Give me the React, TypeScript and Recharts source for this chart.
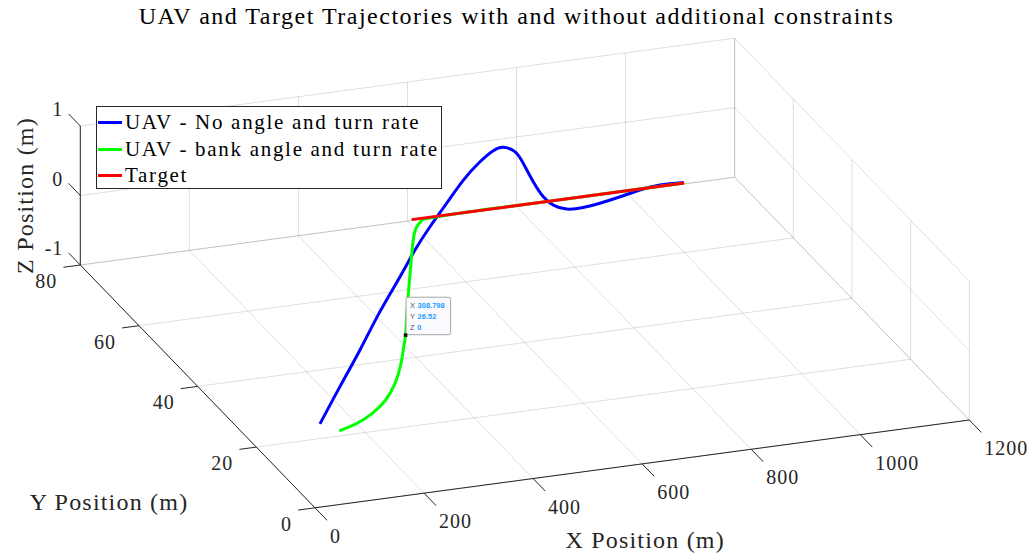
import React from 'react';
import { ComposedChart, Line, Scatter, XAxis, YAxis, ReferenceLine, Legend } from 'recharts';

const W = 1033;
const H = 559;

// axis limits and tick values
const X_LIM = [0, 1200];
const Y_LIM = [0, 80];
const Z_LIM = [-1, 1];
const X_TICKS = [0, 200, 400, 600, 800, 1000, 1200];
const Y_TICKS = [0, 20, 40, 60, 80];
const Z_TICKS = [-1, 0, 1];

// series names, in plotting order
const SERIES = ['UAV - No angle and turn rate', 'UAV - bank angle and turn rate', 'Target'];

// UAV path, no bank angle / turn rate limits
const FREE_X = [30.6, 121.6, 211.6, 304.2, 391.6, 457.8, 518.7, 582.6, 646.1, 701.9, 740.7, 762.3, 774.4, 769.7, 757.0, 749.7, 752.9, 768.4, 797.4, 831.4, 874.3, 917.2, 957.5, 1000];
const FREE_Y = [4.0, 14.1, 24.0, 34.4, 43.8, 51.0, 57.2, 63.4, 69.5, 74.2, 76.9, 77.5, 75.8, 72.1, 66.3, 61.5, 58.7, 57.0, 56.8, 57.4, 58.5, 59.7, 60.4, 60.2];

// UAV path with bank angle and turn rate limits
const BANK_X = [50.9, 91.2, 130.2, 172.6, 216.2, 257.3, 294.0, 308.798, 339.7, 384.8, 430.5, 470.7, 497.1, 514.6, 529.2, 600, 700, 800, 900, 1000];
const BANK_Y = [1.2, 2.7, 4.9, 8.2, 12.9, 18.5, 24.2, 26.52, 31.9, 39.6, 47.3, 54.0, 57.7, 59.3, 59.7, 60, 60, 60, 60, 60];

// target path
const TARGET_X = [500, 1000];
const TARGET_Y = [60, 60];

// all paths are flown at z = 0
const PATH_Z = 0;

// pinned data tip
const TIP = { x: 308.798, y: 26.52, z: 0 };

const SERIF = "'Liberation Serif', 'DejaVu Serif', serif";
const SANS = "'Liberation Sans', 'DejaVu Sans', sans-serif";
const INK = '#262626';

// orthographic view: screen point of the origin and screen step per data unit along x, y, z
const VIEW = {
  ox: 315,
  oy: 438.3,
  xu: [654.3 / 1200, -87.8 / 1200],
  yu: [-234.7 / 80, -242.8 / 80],
  zu: [0, -69.5],
};

type P3 = [number, number, number];

const project = (x: number, y: number, z: number) => ({
  sx: VIEW.ox + x * VIEW.xu[0] + y * VIEW.yu[0] + z * VIEW.zu[0],
  sy: VIEW.oy + x * VIEW.xu[1] + y * VIEW.yu[1] + z * VIEW.zu[1],
});

const path = (xs: number[], ys: number[]) => xs.map((x, i) => project(x, ys[i], PATH_Z));

const [x0, x1] = X_LIM;
const [y0, y1] = Y_LIM;
const [z0, z1] = Z_LIM;

// grid on the floor, the back wall (y max) and the side wall (x max)
const gridSegs: [P3, P3][] = [
  ...X_TICKS.map((x) => [[x, y0, z0], [x, y1, z0]] as [P3, P3]),
  ...Y_TICKS.map((y) => [[x0, y, z0], [x1, y, z0]] as [P3, P3]),
  ...X_TICKS.map((x) => [[x, y1, z0], [x, y1, z1]] as [P3, P3]),
  ...Z_TICKS.map((z) => [[x0, y1, z], [x1, y1, z]] as [P3, P3]),
  ...Y_TICKS.map((y) => [[x1, y, z0], [x1, y, z1]] as [P3, P3]),
  ...Z_TICKS.map((z) => [[x1, y0, z], [x1, y1, z]] as [P3, P3]),
];

// axis lines and tick marks
const axisSegs: [P3, P3][] = [
  [[x0, y0, z0], [x1, y0, z0]],
  [[x0, y0, z0], [x0, y1, z0]],
  [[x0, y1, z0], [x0, y1, z1]],
  ...X_TICKS.map((x) => [[x, y0, z0], [x, y0 - 4.1, z0]] as [P3, P3]),
  ...Y_TICKS.map((y) => [[x0, y, z0], [x0 - 31, y, z0]] as [P3, P3]),
  ...Z_TICKS.map((z) => [[x0, y1, z], [x0, y1 + 4, z]] as [P3, P3]),
];

const xTickLabels = X_TICKS.map((x) => ({ ...project(x, y0, z0), label: String(x) }));
const yTickLabels = Y_TICKS.map((y) => ({ ...project(x0, y, z0), label: String(y) }));
const zTickLabels = Z_TICKS.map((z) => ({ ...project(x0, y1, z), label: String(z) }));

const xTitle = [{ ...project((x0 + x1) / 2, y0, z0), label: 'X Position (m)' }];
const yTitle = [{ ...project(x0, (y0 + y1) / 2, z0), label: 'Y Position (m)' }];
const zTitle = [{ ...project(x0, y1, (z0 + z1) / 2), label: 'Z Position (m)' }];

const tipPoint = [{ ...project(TIP.x, TIP.y, TIP.z), ...TIP }];

const seg = (s: [P3, P3]) => {
  const a = project(...s[0]);
  const b = project(...s[1]);
  return [
    { x: a.sx, y: a.sy },
    { x: b.sx, y: b.sy },
  ];
};

const textShape =
  (dx: number, dy: number, anchor: string, size: number, spacing: number, rotate = false) =>
  (p: any) => {
    const x = p.cx + dx;
    const y = p.cy + dy;
    return (
      <text
        x={x}
        y={y}
        textAnchor={anchor}
        style={{ fontFamily: SERIF, fontSize: size, letterSpacing: spacing }}
        fill={INK}
        transform={rotate ? `rotate(-90 ${x} ${y})` : undefined}
      >
        {p.payload.label}
      </text>
    );
  };

const DataTip = (p: any) => {
  const { cx, cy } = p;
  const rows = [
    ['X', String(p.payload.x)],
    ['Y', String(p.payload.y)],
    ['Z', String(p.payload.z)],
  ];
  return (
    <g>
      <rect x={cx + 0.5} y={cy - 38} width={44.5} height={37.5} rx={2} fill="#fbfbff" stroke="#a8a8a8" strokeWidth={1} />
      {rows.map((r, i) => (
        <text key={r[0]} x={cx + 4.5} y={cy - 27.5 + i * 11} style={{ fontFamily: SANS, fontSize: 7.5 }}>
          <tspan fill="#555">{r[0]}</tspan>
          <tspan dx={2.5} fill="#1a9bff" fontWeight="bold">
            {r[1]}
          </tspan>
        </text>
      ))}
      <rect x={cx - 1.8} y={cy - 1.8} width={3.6} height={3.6} fill="#111" />
    </g>
  );
};

const LegendBox = ({ payload }: any) => {
  const items = (payload || [])
    .filter((e: any) => e.type !== 'none')
    .sort((a: any, b: any) => SERIES.indexOf(a.value) - SERIES.indexOf(b.value));
  return (
    <div
      style={{
        boxSizing: 'border-box',
        width: 346,
        height: 83,
        border: `1px solid ${INK}`,
        background: '#fff',
        paddingTop: 2,
        fontFamily: SERIF,
        fontSize: 21,
        letterSpacing: 1.7,
        color: '#000',
      }}
    >
      {items.map((e: any) => (
        <div key={e.value} style={{ display: 'flex', alignItems: 'center', height: 26.7, whiteSpace: 'nowrap' }}>
          <span style={{ display: 'inline-block', width: 24, height: 3, background: e.color, marginLeft: 1, marginRight: 3 }} />
          <span>{e.value}</span>
        </div>
      ))}
    </div>
  );
};

const App: React.FC = () => {
  return (
    <div style={{ position: 'fixed', left: 0, top: 0, width: W, height: H, background: '#fff' }}>
      <div
        style={{
          position: 'absolute',
          top: 2,
          left: 0,
          width: W,
          textAlign: 'center',
          fontFamily: SERIF,
          fontSize: 24,
          lineHeight: '28px',
          letterSpacing: 1.5,
          color: '#000',
          zIndex: 1,
        }}
      >
        UAV and Target Trajectories with and without additional constraints
      </div>
      <ComposedChart width={W} height={H} margin={{ top: 0, right: 0, bottom: 0, left: 0 }}>
        <XAxis dataKey="sx" type="number" domain={[0, W]} hide />
        <YAxis type="number" domain={[0, H]} reversed hide />

        {gridSegs.map((s, i) => (
          <ReferenceLine key={`g${i}`} segment={seg(s)} stroke="#000" strokeOpacity={0.13} strokeWidth={1} ifOverflow="visible" />
        ))}
        {axisSegs.map((s, i) => (
          <ReferenceLine key={`a${i}`} segment={seg(s)} stroke={INK} strokeWidth={1} ifOverflow="visible" />
        ))}

        <Line
          data={path(FREE_X, FREE_Y)}
          dataKey="sy"
          name={SERIES[0]}
          type="natural"
          stroke="#0000ff"
          strokeWidth={3}
          dot={false}
          activeDot={false}
          isAnimationActive={false}
        />
        <Line
          data={path(BANK_X, BANK_Y)}
          dataKey="sy"
          name={SERIES[1]}
          type="natural"
          stroke="#00ff00"
          strokeWidth={3}
          dot={false}
          activeDot={false}
          isAnimationActive={false}
        />
        <Line
          data={path(TARGET_X, TARGET_Y)}
          dataKey="sy"
          name={SERIES[2]}
          type="linear"
          stroke="#ff0000"
          strokeWidth={3}
          dot={false}
          activeDot={false}
          isAnimationActive={false}
        />

        <Scatter data={xTickLabels} dataKey="sy" legendType="none" isAnimationActive={false} shape={textShape(15, 35, 'start', 20, 1)} />
        <Scatter data={yTickLabels} dataKey="sy" legendType="none" isAnimationActive={false} shape={textShape(-23, 23, 'end', 20, 1)} />
        <Scatter data={zTickLabels} dataKey="sy" legendType="none" isAnimationActive={false} shape={textShape(-17, -10, 'end', 20, 1)} />
        <Scatter data={xTitle} dataKey="sy" legendType="none" isAnimationActive={false} shape={textShape(3, 84.4, 'middle', 24, 1.2)} />
        <Scatter data={yTitle} dataKey="sy" legendType="none" isAnimationActive={false} shape={textShape(-88.6, 123.6, 'middle', 24, 1.2)} />
        <Scatter data={zTitle} dataKey="sy" legendType="none" isAnimationActive={false} shape={textShape(-47, 0, 'middle', 24, 1.2, true)} />
        <Scatter data={tipPoint} dataKey="sy" legendType="none" isAnimationActive={false} shape={DataTip} />

        <Legend
          layout="horizontal"
          verticalAlign="middle"
          align="center"
          wrapperStyle={{ left: 96, top: 106, width: 346 }}
          content={LegendBox}
        />
      </ComposedChart>
    </div>
  );
};

export default App;
